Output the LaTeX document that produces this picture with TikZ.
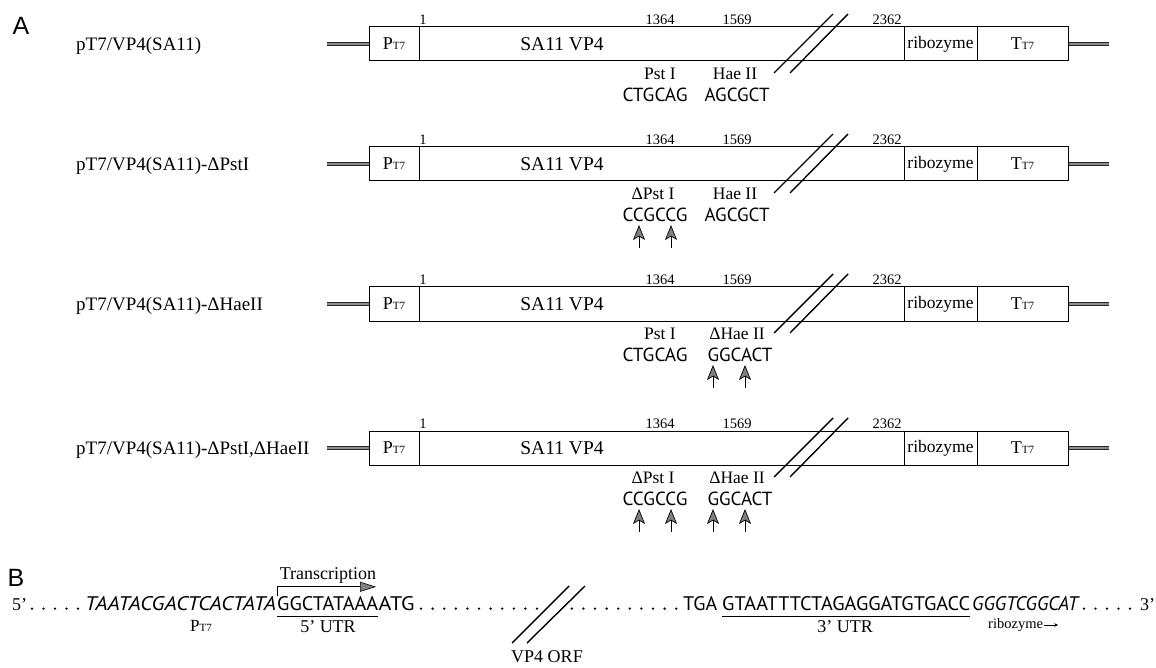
\documentclass[tikz,border=0pt]{standalone}
\usepackage{fontspec}
\usepackage{graphicx}
\setmainfont{Liberation Serif}
\newfontfamily\seqfont{PT Sans}
\newfontfamily\headfont{Liberation Sans}
\usetikzlibrary{arrows.meta}
\newcommand\fs[1]{\fontsize{#1}{#1}\selectfont}
\newcommand\sq[3]{\resizebox{#1pt}{#2pt}{\seqfont #3}}
\newcommand\isq[3]{\resizebox{#1pt}{#2pt}{\seqfont\itshape #3}}
\newcommand\PTsev{\fs{18}P\fs{11}T7}
\newcommand\TTsev{\fs{18}T\fs{11}T7}
\colorlet{headgray}{black!50}
\tikzset{
  blk/.style={draw, line width=1pt, minimum height=34pt, inner sep=0pt, font=\fs{17.5}},
  rowlab/.style={inner sep=0pt, font=\fs{19}},
  gene/.style={inner sep=0pt, font=\fs{19.5}},
  num/.style={inner sep=0pt, font=\fs{14.5}},
  site/.style={inner sep=0pt, font=\fs{17.5}},
  seqn/.style={inner sep=0pt},
  bl/.style={inner sep=0pt, font=\fs{18}},
  hdr/.style={inner sep=0pt, font=\headfont\fs{25}},
  dnaend/.style={line width=1.1pt, draw=black!85, double=black!45, double distance=2.2pt},
  brk/.style={line width=1.4pt},
  mut/.style={line width=0.9pt, -{Stealth[length=15pt, width=12pt, inset=3.5pt, fill=headgray, line width=0.7pt]}},
  tx/.style={line width=0.9pt, -{Triangle[length=16pt, width=10pt, fill=headgray, line width=0.6pt]}},
  ul/.style={line width=1pt}
}
\newcommand\construct[3]{%
  \coordinate (le#1) at (327,#2);
  \coordinate (re#1) at (1109,#2);
  \node[rowlab, anchor=west] (lab#1) at (76,#2+2) {#3};
  \node[blk, minimum width=50pt] (p#1) at (394,#2) {\PTsev};
  \node[blk, minimum width=485pt] (v#1) at (661.5,#2) {};
  \node[blk, minimum width=73pt] (r#1) at (940.5,#2) {ribozyme};
  \node[blk, minimum width=91pt] (t#1) at (1022.5,#2) {\TTsev};
  \node[gene] (sa#1) at (562,#2) {SA11 VP4};
  \draw[dnaend] (le#1) -- (p#1.west);
  \draw[dnaend] (t#1.east) -- (re#1);
  \node[num] (na#1) at (423,#2-24) {1};
  \node[num] (nb#1) at (660,#2-24) {1364};
  \node[num] (nc#1) at (737,#2-24) {1569};
  \node[num] (nd#1) at (887,#2-24) {2362};
  \draw[brk] (774,#2+29) -- (833,#2-30);
  \draw[brk] (790,#2+29) -- (848,#2-30);
}
\begin{document}
\begin{tikzpicture}[x=1pt, y=-1pt]
\useasboundingbox (0,0) rectangle (1156,668);
\node[hdr] (A) at (21,26) {A};

% row 1
\construct{1}{44}{pT7/VP4(SA11)}
\node[site] (pa1) at (660,74) {Pst I};
\node[seqn] (sa1s) at (655,95) {\sq{65}{13.5}{CTGCAG}};
\node[site] (ha1) at (735,74) {Hae II};
\node[seqn] (ha1s) at (737,95) {\sq{65}{13.5}{AGCGCT}};

% row 2
\construct{2}{164}{pT7/VP4(SA11)-ΔPstI}
\node[site] (pa2) at (653,194) {ΔPst I};
\node[seqn] (sa2s) at (655,215) {\sq{65}{13.5}{CCGCCG}};
\node[site] (ha2) at (735,194) {Hae II};
\node[seqn] (ha2s) at (737,215) {\sq{65}{13.5}{AGCGCT}};
\draw[mut] (639,248) -- (639,225);
\draw[mut] (671,248) -- (671,225);

% row 3
\construct{3}{304}{pT7/VP4(SA11)-ΔHaeII}
\node[site] (pa3) at (660,334) {Pst I};
\node[seqn] (sa3s) at (655,355) {\sq{65}{13.5}{CTGCAG}};
\node[site] (ha3) at (737,334) {ΔHae II};
\node[seqn] (ha3s) at (740,355) {\sq{65}{13.5}{GGCACT}};
\draw[mut] (713,388) -- (713,365);
\draw[mut] (745,388) -- (745,365);

% row 4
\construct{4}{448}{pT7/VP4(SA11)-ΔPstI,ΔHaeII}
\node[site] (pa4) at (653,478) {ΔPst I};
\node[seqn] (sa4s) at (655,499) {\sq{65}{13.5}{CCGCCG}};
\node[site] (ha4) at (737,478) {ΔHae II};
\node[seqn] (ha4s) at (740,499) {\sq{65}{13.5}{GGCACT}};
\draw[mut] (639,532) -- (639,509);
\draw[mut] (671,532) -- (671,509);
\draw[mut] (713,532) -- (713,509);
\draw[mut] (745,532) -- (745,509);

% B
\node[hdr] (B) at (16,578) {B};
\node[bl, anchor=base west] (fp) at (12,610) {5'};
\foreach \x in {32,43.5,55,66.5,78} \fill (\x,608.6) circle (1.3pt);
\node[seqn, anchor=base west] (ptseq) at (85,610) {\isq{191}{14}{TAATACGACTCACTATA}};
\node[seqn, anchor=base west] (utr5) at (277,610) {\sq{101}{14}{GGCTATAAA}};
\node[seqn, anchor=base west] (atg) at (utr5.base east) {\sq{36}{14}{ATG}};
\foreach \x in {421,432.6,444.2,455.8,467.4,479,490.6,502.2,513.8,525.4,537,571.8,583.4,595,606.6,618.2,629.8,641.4,653,664.6,676.2} \fill (\x,608.6) circle (1.3pt);
\node[seqn, anchor=base west] (tga) at (683,610) {\sq{34}{14}{TGA}};
\node[seqn, anchor=base west] (utr3) at (722,610) {\sq{248}{14}{GTAATTTCTAGAGGATGTGACC}};
\node[seqn, anchor=base west] (rzseq) at (972,610) {\isq{106}{14}{GGGTCGGCAT}};
\foreach \x in {1084,1095.5,1107,1118.5,1130} \fill (\x,608.6) circle (1.3pt);
\node[bl, anchor=base west] (tp) at (1140,610) {3'};
\draw[ul] ([yshift=-6pt]utr5.base west) -- ([yshift=-6pt]utr5.base east);
\draw[ul] ([yshift=-6pt]utr3.base west) -- ([yshift=-6pt]utr3.base east);
\node[bl] (txlab) at (328,575) {Transcription};
\draw[tx] (utr5.north west) -- ++(0,-9) -- ++(99,0);
\node[bl] (ptlab) at (201,626) {\fs{17}P\fs{11}T7};
\node[bl] (u5lab) at (328,627) {5' UTR};
\node[bl] (u3lab) at (845,627) {3' UTR};
\node[inner sep=0pt, font=\fs{14.5}, anchor=west] (rzlab) at (988,625) {ribozyme};
\draw[line width=0.7pt, -{Stealth[length=4pt, width=3.5pt]}] ([xshift=1pt]rzlab.east) -- ++(14,0);
\draw[brk] (512,643) -- (569,586);
\draw[brk] (527,643) -- (585,586);
\node[bl] (orf) at (547,657) {VP4 ORF};
\end{tikzpicture}
\end{document}
